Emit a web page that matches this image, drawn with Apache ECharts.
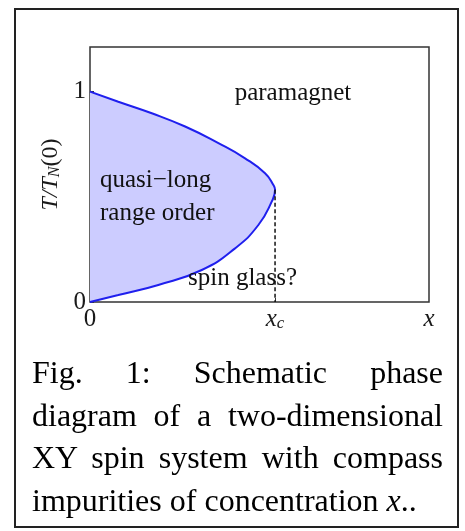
<!DOCTYPE html>
<html>
<head>
  <meta charset="utf-8">
  <script src="https://cdn.jsdelivr.net/npm/echarts@6/dist/echarts.min.js"></script>
  <style>
    body { margin: 0; background: #fff; }
    #main { position: absolute; left: 0; top: 0; width: 465px; height: 531px; }
    #caption { position: absolute; left: 32px; top: 351px; width: 411px;
      font-family: "Liberation Serif", "Times New Roman", serif; font-size: 32px;
      line-height: 42.5px; color: #000; }
    #caption div { text-align: justify; text-align-last: justify; white-space: nowrap; }
    #caption div.last { text-align-last: left; }
  </style>
</head>
<body>
  <div id="main"></div>
  <div id="caption">
    <div>Fig. 1: Schematic phase</div>
    <div>diagram of a two-dimensional</div>
    <div>XY spin system with compass</div>
    <div class="last">impurities of concentration <i>x</i>..</div>
  </div>
  <script type="text/javascript">
    // phase boundary, x in units of x_c, T in units of T_N(0)
    var boundaryX = [0, 0.153, 0.334, 0.514, 0.694, 0.838, 0.946, 0.991, 1.0, 0.982, 0.910, 0.784, 0.604, 0.369, 0.153, 0];
    var boundaryT = [1.0, 0.952, 0.897, 0.834, 0.755, 0.683, 0.612, 0.556, 0.533, 0.477, 0.366, 0.255, 0.152, 0.081, 0.033, 0];
    // dashed line below the tip at x_c
    var critX = [1, 1];
    var critT = [0.533, 0];
    // ticks
    var xTickValues = [0, 1, 1.832];
    var xTickLabels = ['0', '{i|x}{s|c}', '{i|x}'];
    var yTickValues = [0, 1];
    var yTickLabels = ['0', '1'];
    var xMax = 1.832;
    var yMax = 1.212;

    var serif = '"Liberation Serif", "Times New Roman", serif';
    var myChart = echarts.init(document.getElementById('main'));

    var option = {
      animation: false,
      grid: { left: 90, top: 47, width: 339, height: 255, show: true, borderColor: '#333', borderWidth: 1.5 },
      xAxis: {
        type: 'value', min: 0, max: xMax,
        axisLine: { show: false }, splitLine: { show: false },
        axisTick: { show: true, inside: true, length: 4, customValues: xTickValues.slice(0, 2), lineStyle: { color: '#333' } },
        axisLabel: {
          customValues: xTickValues, margin: 5,
          fontFamily: serif, fontSize: 25, color: '#1a1a1a',
          formatter: function (v) { return xTickLabels[xTickValues.indexOf(v)]; },
          rich: {
            i: { fontFamily: serif, fontSize: 25, fontStyle: 'italic', color: '#1a1a1a' },
            s: { fontFamily: serif, fontSize: 17, fontStyle: 'italic', color: '#1a1a1a', lineHeight: 10, verticalAlign: 'bottom' }
          }
        }
      },
      yAxis: {
        type: 'value', min: 0, max: yMax,
        axisLine: { show: false }, splitLine: { show: false },
        axisTick: { show: true, inside: true, length: 4, customValues: yTickValues, lineStyle: { color: '#333' } },
        axisLabel: {
          customValues: yTickValues, margin: 4,
          fontFamily: serif, fontSize: 25, color: '#1a1a1a',
          formatter: function (v) { return yTickLabels[yTickValues.indexOf(v)]; }
        },
        name: '{i|T/T}{s|N}{n|(0)}',
        nameLocation: 'middle', nameRotate: 90, nameGap: 22,
        nameTextStyle: {
          rich: {
            i: { fontFamily: serif, fontSize: 24, fontStyle: 'italic', color: '#1a1a1a' },
            s: { fontFamily: serif, fontSize: 16, fontStyle: 'italic', color: '#1a1a1a', lineHeight: 10, verticalAlign: 'bottom' },
            n: { fontFamily: serif, fontSize: 24, color: '#1a1a1a' }
          }
        }
      },
      series: [
        {
          // closed boundary: the area to T=0 folds back on itself, so only the enclosed phase is filled
          type: 'line',
          silent: true,
          symbol: 'none',
          smooth: 0.5,
          z: 2,
          data: boundaryX.map(function (x, i) { return [x, boundaryT[i]]; }),
          lineStyle: { color: '#1f1fee', width: 2 },
          areaStyle: { color: '#ccccff', opacity: 1 }
        },
        {
          type: 'line',
          silent: true,
          symbol: 'none',
          z: 3,
          data: critX.map(function (x, i) { return [x, critT[i]]; }),
          lineStyle: { color: '#111', width: 1.5, type: [4, 2.5] }
        }
      ],
      graphic: [
        { type: 'rect', silent: true, z: 100, shape: { x: 15, y: 9, width: 443, height: 518 },
          style: { fill: 'none', stroke: '#222', lineWidth: 2 } },
        { type: 'text', silent: true, z: 100, x: 293, y: 93,
          style: { text: 'paramagnet', font: '25px ' + serif, fill: '#111', align: 'center', verticalAlign: 'middle' } },
        { type: 'text', silent: true, z: 100, x: 100, y: 180,
          style: { text: 'quasi\u2212long', font: '25px ' + serif, fill: '#111', align: 'left', verticalAlign: 'middle' } },
        { type: 'text', silent: true, z: 100, x: 100, y: 213,
          style: { text: 'range order', font: '25px ' + serif, fill: '#111', align: 'left', verticalAlign: 'middle' } },
        { type: 'text', silent: true, z: 100, x: 188, y: 278,
          style: { text: 'spin glass?', font: '25px ' + serif, fill: '#111', align: 'left', verticalAlign: 'middle' } }
      ]
    };
    myChart.setOption(option);
  </script>
</body>
</html>
